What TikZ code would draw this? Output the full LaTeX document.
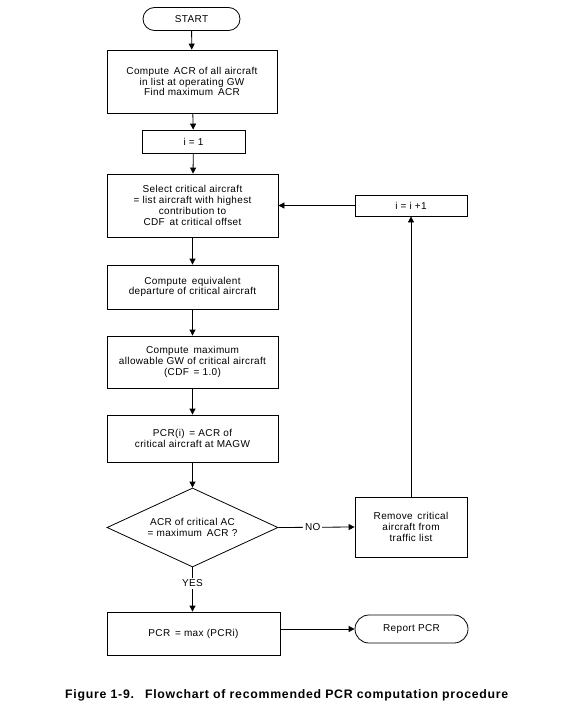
\documentclass[tikz,border=0pt]{standalone}
\usepackage{fontspec}
\setmainfont{Liberation Sans}
\usetikzlibrary{arrows.meta,shapes.geometric,shapes.misc}
\begin{document}
\begin{tikzpicture}[x=1pt,y=-1pt,
  every node/.style={font=\fontsize{10}{10.8}\selectfont\addfontfeature{LetterSpace=3.5}, align=center, inner sep=0pt},
  box/.style={draw, line width=0.8pt, minimum width=171pt},
  term/.style={draw, line width=0.8pt, rounded rectangle},
  dec/.style={draw, line width=0.8pt, diamond, aspect=2.16, minimum width=171pt, minimum height=79pt},
  conn/.style={draw, line width=0.8pt, -{Triangle[length=6pt,width=6pt]}},
  lab/.style={fill=white, inner sep=2pt}]
\useasboundingbox (0,0) rectangle (566,720);
\node[term, minimum width=97pt, minimum height=23pt] (start) at (191.5,19) {START};
\node[box, minimum width=170pt, minimum height=63pt] (acr) at (192,81.5) {Compute\, ACR of all aircraft\\in list at operating GW\\Find maximum\, ACR};
\node[box, minimum width=103pt, minimum height=23pt] (i1) at (193.5,141.5) {i = 1};
\node[box, minimum height=63pt] (sel) at (192.5,205.5) {Select critical aircraft\\= list aircraft with highest\\contribution to\\CDF\, at critical offset};
\node[box, minimum height=44pt] (eq) at (192.5,287) {Compute\, equivalent\\departure of critical aircraft};
\node[box, minimum height=52pt] (mg) at (192.5,362) {Compute\, maximum\\allowable GW of critical aircraft\\(CDF\, = 1.0)};
\node[box, minimum height=47pt] (pi) at (192.5,438.5) {PCR(i)\, = ACR of\\critical aircraft at MAGW};
\node[dec] (d) at (192.5,527.5) {ACR of critical AC\\= maximum\, ACR ?};
\node[box, minimum width=173pt, minimum height=43pt] (pcr) at (193.5,633.5) {PCR\, = max (PCRi)};
\node[term, minimum width=113pt, minimum height=28pt] (rep) at (411.5,629) {Report PCR};
\node[box, minimum width=112pt, minimum height=21pt] (inc) at (411,205.5) {i = i +1};
\node[box, minimum width=112pt, minimum height=60pt] (rem) at (411,527) {Remove\, critical\\aircraft from\\traffic list};
\node[font=\bfseries\fontsize{12.3}{14}\selectfont\addfontfeature{LetterSpace=6}, anchor=base west] (cap) at (65,698) {Figure 1-9.\hspace{11pt}Flowchart of recommended PCR computation procedure};
\draw[conn] (start) -- (acr);
\draw[conn] (acr) -- (i1);
\draw[conn] (i1) -- (sel);
\draw[conn] (sel) -- (eq);
\draw[conn] (eq) -- (mg);
\draw[conn] (mg) -- (pi);
\draw[conn] (pi) -- (d);
\draw[conn] (d.south) -- node[lab, pos=0.36] {YES} (d.south |- pcr.north);
\draw[conn] (d.east) -- node[lab, pos=0.45] {NO} (rem.west);
\draw[conn] (rem.north) -- (inc.south);
\draw[conn] (inc.west) -- (sel.east |- inc.west);
\draw[conn] (pcr.east |- rep.west) -- (rep.west);
\end{tikzpicture}
\end{document}
